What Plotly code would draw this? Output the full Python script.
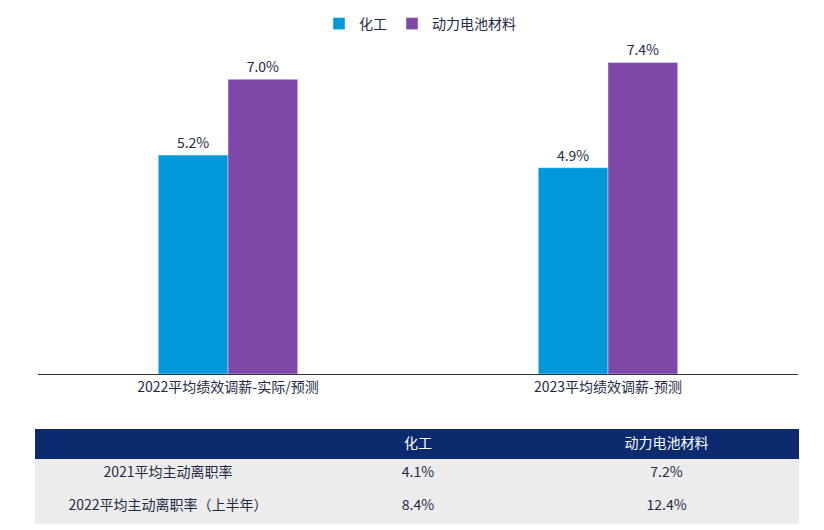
import plotly.graph_objects as go

categories = ["2022平均绩效调薪-实际/预测", "2023平均绩效调薪-预测"]
chem = [5.2, 4.9]
battery = [7.0, 7.4]
series_names = ["化工", "动力电池材料"]

table_rows = ["2021平均主动离职率", "2022平均主动离职率（上半年）"]
table_chem = ["4.1%", "8.4%"]
table_battery = ["7.2%", "12.4%"]

W, H = 824, 530
font = "Noto Sans CJK SC, Liberation Sans, Arial"
fig = go.Figure()
fig.add_bar(x=categories, y=chem, name=series_names[0], marker_color="#0098DA",
            text=[f"{v:.1f}%" for v in chem], textposition="outside",
            textfont=dict(size=14, color="#1F2A44"), cliponaxis=False)
fig.add_bar(x=categories, y=battery, name=series_names[1], marker_color="#7E47A8",
            text=[f"{v:.1f}%" for v in battery], textposition="outside",
            textfont=dict(size=14, color="#1F2A44"), cliponaxis=False)

fig.add_trace(go.Table(
    domain=dict(x=[27/W, 790/W], y=[1-517/H, 1-421/H]),
    columnwidth=[266, 234, 263],
    header=dict(values=["", series_names[0], series_names[1]],
                fill_color="#0C2B6E", line_color="#0C2B6E", height=29,
                font=dict(color="white", size=14, family=font), align="center"),
    cells=dict(values=[table_rows, table_chem, table_battery],
               fill_color="#ECECEC", line_color="#ECECEC", height=33,
               font=dict(color="#1F2A44", size=14, family=font), align="center"),
))

fig.update_layout(
    width=W, height=H, margin=dict(l=0, r=0, t=0, b=0),
    paper_bgcolor="white", plot_bgcolor="white",
    font=dict(family=font, color="#1F2A44", size=14),
    barmode="group", bargap=0.633, bargroupgap=0,
    showlegend=True,
    legend=dict(orientation="h", x=0.5, xanchor="center", y=1.0, yanchor="top",
                font=dict(size=14), itemwidth=30),
    xaxis=dict(domain=[30/W, 790/W], showline=True, linecolor="#333333",
               linewidth=1, ticks="", tickfont=dict(size=14, color="#1F2A44")),
    yaxis=dict(domain=[1-366/H, 1-30/H], range=[0, 7.98], visible=False),
)
fig.write_html("out.html")
